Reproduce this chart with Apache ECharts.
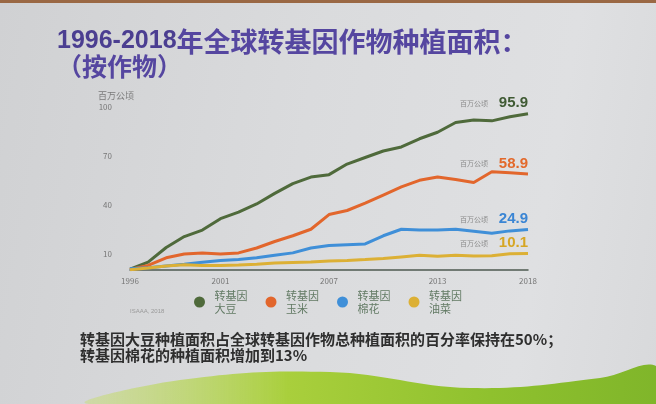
<!DOCTYPE html>
<html>
<head>
<meta charset="utf-8">
<script src="https://cdn.jsdelivr.net/npm/echarts@6/dist/echarts.min.js"></script>
<style>
  html, body { margin: 0; padding: 0; }
  body { width: 656px; height: 404px; overflow: hidden;
         background: linear-gradient(100deg, #d0d1d3 0%, #dadbdd 45%, #dfe0e2 80%, #d8d9db 100%); }
  #main { width: 656px; height: 404px; }
</style>
</head>
<body>
<div id="main"></div>
<script>
var years = ['1996', '1997', '1998', '1999', '2000', '2001', '2002', '2003', '2004', '2005', '2006', '2007',
             '2008', '2009', '2010', '2011', '2012', '2013', '2014', '2015', '2016', '2017', '2018'];
var xTickLabels = ['1996', '2001', '2007', '2013', '2018'];
var yTickLabels = [10, 40, 70, 100];

var cropNames = ['转基因大豆', '转基因玉米', '转基因棉花', '转基因油菜'];
var soybean = [0.5, 4.8, 13.8, 20.5, 24.5, 31.5, 35.5, 40.5, 47, 53, 57, 58.5, 65, 69, 73, 75.5, 80.5, 84.5, 90.5, 92, 91.5, 94, 95.9];
var maize = [0.3, 2.8, 7.5, 9.8, 10.5, 9.8, 10.5, 13.5, 17.5, 21, 25, 34, 36.5, 41, 46, 51, 55, 57, 55.5, 53.7, 60.3, 59.7, 58.9];
var cotton = [0.8, 1.4, 2.5, 3.6, 4.8, 5.8, 6.5, 7.5, 9, 10.5, 13.5, 15, 15.5, 16, 21, 25, 24.6, 24.5, 25, 23.8, 22.6, 24, 24.9];
var canola = [0.1, 1.2, 2.4, 3.2, 2.8, 2.8, 3.1, 3.6, 4.3, 4.6, 4.9, 5.5, 5.9, 6.4, 7, 8, 9, 8.4, 9, 8.6, 8.7, 10, 10.1];

var lineColors = ['#4f6a3b', '#e2662c', '#3f8fd8', '#dcb035'];
var numColors = ['#3f5a33', '#e3692b', '#3a85d4', '#d6a624'];

var myChart = echarts.init(document.getElementById('main'));

function makeSeries(i, values) {
    var last = values.length - 1;
    return {
        name: cropNames[i],
        type: 'line',
        data: values,
        showSymbol: false,
        lineStyle: { width: 3, color: lineColors[i] },
        itemStyle: { color: lineColors[i] },
        markPoint: {
            symbol: 'circle',
            symbolSize: 0,
            silent: true,
            data: [{ coord: [years[last], values[last]], value: values[last] }],
            label: {
                show: true,
                position: 'top',
                align: 'right',
                distance: 3,
                formatter: '{u|百万公顷}    {v|' + values[last] + '}',
                rich: {
                    u: { fontSize: 7, color: '#8a8a8a', fontFamily: 'Noto Sans CJK SC' },
                    v: { fontSize: 15, fontWeight: 'bold', color: numColors[i], fontFamily: 'Liberation Sans' }
                }
            }
        }
    };
}

myChart.setOption({
    textStyle: { fontFamily: 'Noto Sans CJK SC' },
    grid: { left: 130, right: 128, top: 107, bottom: 134 },
    legend: {
        left: 189,
        top: 284,
        icon: 'circle',
        itemWidth: 20,
        itemHeight: 11,
        itemGap: 18,
        data: cropNames,
        formatter: function (name) {
            return name.slice(0, 3) + '\n' + name.slice(3);
        },
        textStyle: { fontSize: 11, lineHeight: 13, color: '#627a64' }
    },
    xAxis: {
        type: 'category',
        data: years,
        boundaryGap: false,
        axisLine: { lineStyle: { color: '#4d5a50', width: 1.5 } },
        axisTick: { show: false },
        axisLabel: {
            color: '#777',
            fontSize: 8,
            margin: 7,
            interval: function (index, value) {
                return xTickLabels.indexOf(value) >= 0;
            }
        }
    },
    yAxis: {
        type: 'value',
        min: 0,
        max: 100,
        name: '百万公顷',
        nameGap: 7,
        nameTextStyle: { color: '#7a7a7a', fontSize: 9, align: 'right', padding: [0, -4, 0, 0] },
        axisLine: { show: false },
        axisTick: { show: false },
        splitLine: { show: false },
        axisLabel: {
            color: '#777',
            fontSize: 8,
            margin: 18,
            customValues: yTickLabels
        }
    },
    graphic: [
        { type: 'rect', shape: { x: 0, y: 0, width: 656, height: 3 }, style: { fill: '#9a6844' } },
        {
            type: 'polygon',
            silent: true,
            shape: {
                smooth: 0.4,
                points: [[90, 404], [180, 380], [330, 372], [470, 388], [600, 378], [656, 366], [656, 404]]
            },
            style: {
                fill: new echarts.graphic.LinearGradient(0, 0, 1, 0, [
                    { offset: 0, color: 'rgba(200,220,120,0.5)' },
                    { offset: 0.35, color: '#a9cf3c' },
                    { offset: 0.7, color: '#8fc12e' },
                    { offset: 1, color: '#7fb52a' }
                ])
            }
        },
        {
            type: 'text', left: 57, top: 28,
            style: {
                text: '{a|1996-2018}{b|年全球转基因作物种植面积：}',
                rich: {
                    a: { fontSize: 25, fontWeight: 'bold', fill: '#4b3e91', fontFamily: 'Liberation Sans' },
                    b: { fontSize: 27, fontWeight: 'bold', fill: '#5546a0', fontFamily: 'Noto Sans CJK SC' }
                }
            }
        },
        {
            type: 'text', left: 57, top: 54,
            style: { text: '（按作物）', fontSize: 25, fontWeight: 'bold', fill: '#5546a0', fontFamily: 'Noto Sans CJK SC' }
        },
        {
            type: 'text', left: 130, top: 308,
            style: { text: 'ISAAA, 2018', fontSize: 6, fill: '#999', fontFamily: 'Liberation Sans' }
        },
        {
            type: 'text', left: 80, top: 331,
            style: {
                text: '转基因大豆种植面积占全球转基因作物总种植面积的百分率保持在50%；\n转基因棉花的种植面积增加到13%',
                fontSize: 15, lineHeight: 16, fontWeight: 'bold', fill: '#2e2e2e', fontFamily: 'Noto Sans CJK SC'
            }
        }
    ],
    series: [
        makeSeries(0, soybean),
        makeSeries(1, maize),
        makeSeries(2, cotton),
        makeSeries(3, canola)
    ]
});
</script>
</body>
</html>
